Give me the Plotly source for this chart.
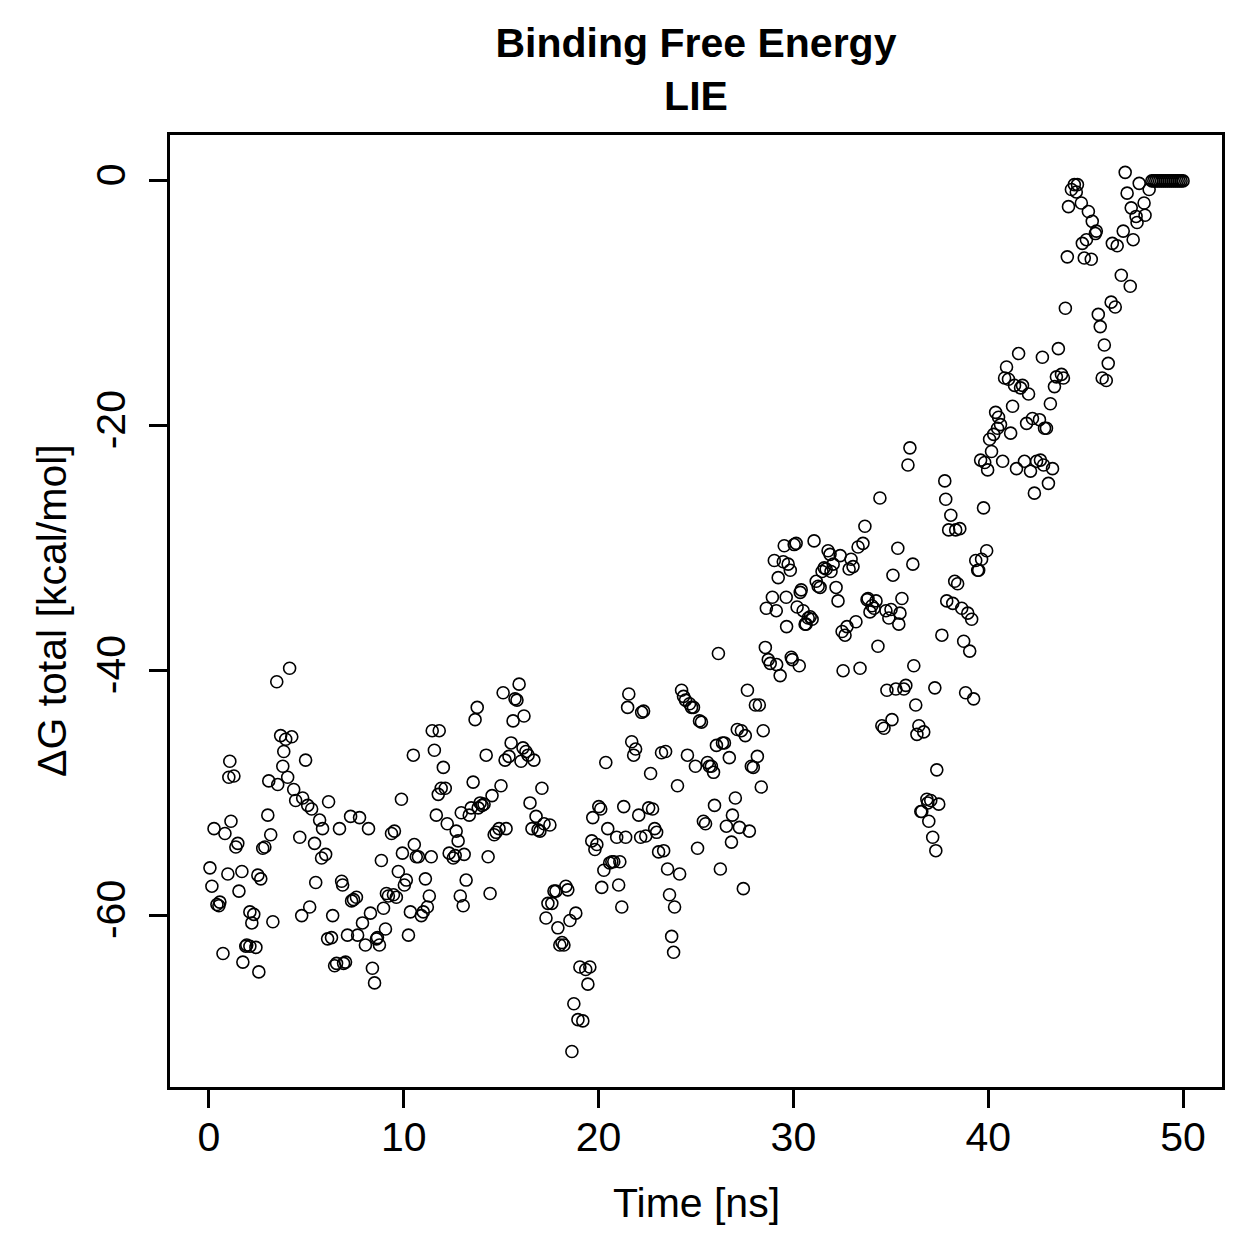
import plotly.graph_objects as go

# Time [ns] and ΔG total [kcal/mol], in 5-ns segments
t_a = [0.05,0.15,0.26,0.41,0.51,0.56,0.72,0.82,0.97,1.02,1.07,1.13,1.28,1.38,1.48,1.54,1.69,1.74,1.89,1.94,2.10,2.10,2.20,2.30,2.41,2.51,2.56,2.66,2.76,2.87,3.02,3.07,3.17,3.28,3.48,3.53,3.68,3.79,3.84,3.94,4.04,4.14,4.25,4.35,4.45,4.66,4.76,4.81,4.96]
g_a = [-56.1,-57.6,-52.9,-59.1,-59.2,-58.9,-63.1,-53.3,-56.6,-48.7,-47.4,-52.3,-48.6,-54.4,-54.1,-58.0,-56.4,-63.8,-62.5,-62.4,-62.5,-59.7,-60.6,-59.9,-62.6,-56.7,-64.6,-57.0,-54.5,-54.4,-51.8,-49.0,-53.4,-60.5,-40.9,-49.3,-45.3,-47.8,-46.6,-45.6,-48.7,-39.8,-45.4,-49.7,-50.6,-53.6,-60.0,-50.4,-47.3]

t_b = [5.07,5.17,5.27,5.42,5.48,5.68,5.78,5.83,5.99,6.09,6.14,6.29,6.35,6.45,6.55,6.70,6.81,6.86,6.91,7.01,7.11,7.27,7.32,7.42,7.57,7.63,7.73,7.88,8.03,8.19,8.29,8.39,8.50,8.60,8.65,8.75,8.85,8.96,9.06,9.11,9.21,9.37,9.47,9.52,9.62,9.72,9.88,9.93]
g_b = [-51.0,-59.3,-51.3,-54.1,-57.3,-52.2,-55.3,-52.9,-55.0,-61.9,-50.7,-61.8,-60.0,-64.1,-63.9,-52.9,-57.2,-57.5,-63.9,-63.8,-61.6,-51.9,-58.8,-58.7,-58.5,-61.6,-52.0,-60.6,-62.4,-52.9,-59.8,-64.3,-65.5,-61.9,-61.8,-62.4,-55.5,-59.4,-61.1,-58.2,-58.4,-53.3,-58.3,-53.1,-58.5,-56.4,-50.5,-54.9]

t_c = [10.03,10.13,10.24,10.34,10.49,10.54,10.64,10.75,10.90,11.00,11.11,11.21,11.31,11.41,11.46,11.57,11.67,11.77,11.82,11.92,12.03,12.13,12.23,12.33,12.54,12.64,12.69,12.79,12.90,12.95,13.05,13.10,13.20,13.36,13.46,13.56,13.66,13.77,13.82,13.92,14.02,14.12,14.23,14.33,14.43,14.53,14.64,14.74,14.89,14.99]
g_c = [-57.5,-57.1,-61.6,-59.7,-46.9,-54.2,-55.2,-55.2,-60.0,-59.7,-57.0,-59.3,-58.4,-55.2,-44.9,-46.5,-51.8,-50.1,-44.9,-49.6,-47.9,-49.6,-52.5,-54.9,-55.3,-55.1,-53.1,-53.9,-58.4,-51.6,-59.2,-55.0,-57.1,-51.8,-51.2,-49.1,-44.0,-43.0,-51.2,-50.8,-51.0,-50.9,-46.9,-55.2,-58.2,-50.2,-53.4,-53.2,-52.9,-49.4]

t_d = [15.10,15.20,15.25,15.40,15.51,15.61,15.71,15.81,15.92,16.02,16.12,16.17,16.27,16.38,16.48,16.58,16.68,16.79,16.89,16.99,17.09,17.20,17.30,17.40,17.50,17.60,17.71,17.81,17.91,18.01,18.12,18.22,18.32,18.42,18.53,18.63,18.73,18.83,18.94,19.04,19.19,19.34,19.45,19.55,19.65,19.70,19.81,19.91]
g_d = [-41.8,-47.3,-52.9,-47.0,-45.9,-44.1,-42.3,-42.4,-41.1,-47.4,-46.3,-43.7,-46.6,-46.9,-50.8,-52.9,-47.3,-51.9,-53.0,-53.1,-49.6,-52.5,-60.2,-59.0,-52.6,-59.0,-58.0,-58.0,-61.0,-62.4,-62.2,-62.4,-57.6,-57.9,-60.4,-71.1,-67.2,-59.8,-68.5,-64.2,-68.6,-64.4,-65.6,-64.2,-53.9,-52.0,-54.6,-54.2]

t_e = [20.01,20.11,20.16,20.27,20.37,20.47,20.57,20.68,20.78,20.93,21.03,21.09,21.19,21.29,21.39,21.49,21.55,21.70,21.80,21.90,22.06,22.16,22.21,22.31,22.42,22.57,22.67,22.77,22.88,22.98,23.08,23.23,23.34,23.44,23.54,23.64,23.75,23.85,23.90,24.05,24.16,24.26,24.36,24.46,24.56,24.67,24.77,24.87,24.97]
g_e = [-51.1,-51.3,-57.7,-56.3,-47.5,-52.9,-55.7,-55.6,-55.6,-53.6,-57.5,-55.6,-59.3,-51.1,-53.6,-43.0,-41.9,-45.8,-46.9,-46.4,-51.8,-53.6,-43.4,-43.3,-53.5,-51.2,-48.4,-51.3,-52.9,-53.2,-54.8,-46.7,-54.7,-46.6,-56.2,-58.3,-61.7,-63.0,-59.3,-49.4,-56.6,-41.6,-42.1,-42.4,-46.9,-42.7,-43.0,-43.0,-47.8]

t_f = [25.08,25.18,25.28,25.38,25.49,25.59,25.69,25.79,25.90,25.95,26.05,26.15,26.25,26.36,26.46,26.56,26.71,26.82,26.87,27.02,27.12,27.23,27.33,27.43,27.53,27.64,27.74,27.84,27.94,28.05,28.15,28.25,28.35,28.45,28.56,28.61,28.71,28.81,28.92,29.02,29.12,29.14,29.22,29.32,29.48,29.53,29.63,29.65,29.73,29.84,29.89,29.94]
g_f = [-54.5,-44.1,-44.2,-52.3,-52.5,-47.5,-47.8,-47.8,-48.3,-51.0,-46.1,-38.6,-56.2,-45.9,-45.9,-52.7,-47.1,-54.0,-51.8,-50.4,-44.8,-52.8,-44.9,-57.8,-45.3,-41.6,-53.1,-47.8,-47.9,-42.8,-47.0,-42.8,-49.5,-44.9,-38.1,-34.9,-39.1,-39.4,-34.0,-31.0,-35.1,-39.5,-32.4,-40.4,-31.1,-29.8,-34.0,-36.4,-31.3,-31.8,-38.9,-39.1]

t_g = [30.04,30.14,30.19,30.30,30.35,30.40,30.50,30.60,30.65,30.76,30.86,30.96,31.06,31.17,31.27,31.37,31.47,31.58,31.68,31.78,31.88,31.93,32.04,32.19,32.29,32.40,32.50,32.55,32.65,32.75,32.86,32.96,33.06,33.21,33.32,33.42,33.57,33.67,33.78,33.83,33.93,34.03,34.14,34.24,34.34,34.44,34.54,34.65,34.75,34.80,34.90]
g_g = [-29.7,-29.6,-34.8,-39.6,-33.6,-33.4,-35.1,-36.2,-36.2,-35.7,-35.6,-35.8,-29.4,-32.7,-33.1,-33.2,-31.9,-31.6,-31.7,-30.2,-30.5,-31.9,-31.3,-33.2,-34.3,-30.6,-36.8,-40.0,-37.1,-36.4,-31.7,-30.9,-31.5,-36.0,-29.9,-39.8,-29.6,-28.2,-34.2,-34.1,-35.2,-34.7,-34.9,-34.3,-38.0,-25.9,-44.5,-44.7,-35.1,-41.6,-35.7]

t_h = [35.01,35.06,35.11,35.26,35.36,35.41,35.47,35.57,35.67,35.77,35.88,35.98,36.13,36.18,36.28,36.34,36.44,36.54,36.59,36.69,36.85,36.90,36.95,37.05,37.15,37.26,37.31,37.36,37.46,37.62,37.77,37.82,37.87,37.97,38.08,38.18,38.28,38.33,38.43,38.54,38.64,38.74,38.84,38.95,39.05,39.15,39.25,39.36,39.46,39.51,39.61,39.66,39.76,39.82,39.92,39.97]
g_h = [-35.0,-44.0,-32.2,-41.5,-30.0,-36.2,-35.3,-34.1,-41.5,-41.2,-23.2,-21.8,-31.3,-39.6,-42.8,-45.2,-44.5,-51.5,-51.5,-45.0,-50.5,-50.8,-52.3,-50.6,-53.6,-41.4,-54.7,-48.1,-50.9,-37.1,-24.5,-26.0,-34.3,-28.5,-27.3,-34.5,-32.7,-28.5,-32.9,-28.4,-34.9,-37.6,-41.8,-35.3,-38.4,-35.8,-42.3,-31.0,-31.8,-31.8,-22.8,-30.9,-26.7,-23.0,-30.2,-23.6]

t_i = [40.07,40.17,40.28,40.38,40.48,40.53,40.63,40.74,40.84,40.94,41.04,41.15,41.25,41.35,41.45,41.56,41.66,41.76,41.86,41.97,42.07,42.17,42.27,42.37,42.48,42.63,42.68,42.78,42.84,42.89,42.99,43.09,43.19,43.30,43.40,43.50,43.60,43.76,43.86,43.96]
g_i = [-21.1,-22.1,-20.7,-18.9,-20.2,-19.3,-19.9,-22.9,-16.1,-15.2,-16.2,-20.6,-18.4,-16.7,-23.5,-14.1,-16.9,-16.7,-22.9,-19.8,-17.4,-23.7,-19.4,-25.5,-22.9,-19.5,-22.8,-14.4,-23.2,-20.2,-20.2,-24.7,-18.2,-23.5,-16.8,-16.0,-13.7,-15.8,-16.1,-10.4]

t_j = [44.06,44.12,44.27,44.42,44.52,44.58,44.78,44.83,44.93,45.04,45.14,45.29,45.34,45.50,45.55,45.65,45.75,45.85,45.96,46.06,46.16,46.31,46.37,46.52,46.62,46.83,46.93,47.03,47.13,47.29,47.34,47.44,47.59,47.64,47.75,48.00,48.05,48.26]
g_j = [-6.2,-2.1,-0.7,-0.3,-0.9,-0.3,-1.8,-5.1,-6.3,-4.8,-2.5,-6.4,-3.3,-4.3,-4.1,-10.9,-11.9,-16.1,-13.4,-16.3,-14.9,-9.9,-5.1,-10.3,-5.3,-7.7,-4.1,0.7,-1.0,-8.6,-2.2,-4.8,-2.9,-3.4,-0.2,-1.8,-2.8,-0.7]

t_k = [48.4,48.5,48.6,48.7,48.8,48.9,49.0,49.1,49.2,49.3,49.4,49.5,49.6,49.7,49.8,49.9,50.0]
g_k = [0.0,0.0,0.0,0.0,0.0,0.0,0.0,0.0,0.0,0.0,0.0,0.0,0.0,0.0,0.0,0.0,0.0]

x_ticks = [0, 10, 20, 30, 40, 50]
y_ticks = [0, -20, -40, -60]

segments = [(t_a, g_a), (t_b, g_b), (t_c, g_c), (t_d, g_d), (t_e, g_e),
            (t_f, g_f), (t_g, g_g), (t_h, g_h), (t_i, g_i), (t_j, g_j), (t_k, g_k)]
time, dg = [], []
for ts, gs in segments:
    assert len(ts) == len(gs), (len(ts), len(gs), ts[0])
    time += ts
    dg += gs

FONT = "Liberation Sans, Arial, Helvetica, sans-serif"
W = H = 1259
L, R, T, B = 170, 37, 135, 172

fig = go.Figure(go.Scatter(
    x=time, y=dg, mode="markers",
    marker=dict(symbol="circle-open", size=12, color="black",
                line=dict(color="black", width=1.6)),
    showlegend=False, hoverinfo="x+y",
))

axis_common = dict(
    showline=True, linecolor="black", linewidth=3, mirror=True,
    ticks="outside", ticklen=18, tickwidth=3, tickcolor="black",
    showgrid=False, zeroline=False,
    tickfont=dict(family=FONT, size=41, color="black"),
)

fig.update_layout(
    width=W, height=H,
    margin=dict(l=L, r=R, t=T, b=B, autoexpand=False),
    paper_bgcolor="white", plot_bgcolor="white",
    title=dict(
        text="<b>Binding Free Energy</b><br><b>LIE</b>",
        font=dict(family=FONT, size=41, color="black"),
        x=(L + (W - L - R) / 2) / W, xanchor="center",
        yref="container", y=1 - 57 / H, yanchor="middle",
    ),
    xaxis=dict(range=[-2, 52], tickvals=x_ticks, ticktext=[str(v) for v in x_ticks],
               ticklabelstandoff=-6, **axis_common),
    yaxis=dict(range=[-74.0, 3.75], tickvals=y_ticks, ticktext=[str(v) for v in y_ticks],
               tickangle=-90, ticklabelstandoff=8, **axis_common),
    annotations=[
        dict(text="Time [ns]", xref="paper", yref="paper",
             x=0.5, y=-(1203 - 1087) / (H - T - B), xanchor="center", yanchor="middle",
             showarrow=False, font=dict(family=FONT, size=41, color="black")),
        dict(text="ΔG total [kcal/mol]", xref="paper", yref="paper",
             x=-(L - 52) / (W - L - R), y=0.5, xanchor="center", yanchor="middle",
             textangle=-90, showarrow=False,
             font=dict(family=FONT, size=41, color="black")),
    ],
)

fig.write_html("out.html")
